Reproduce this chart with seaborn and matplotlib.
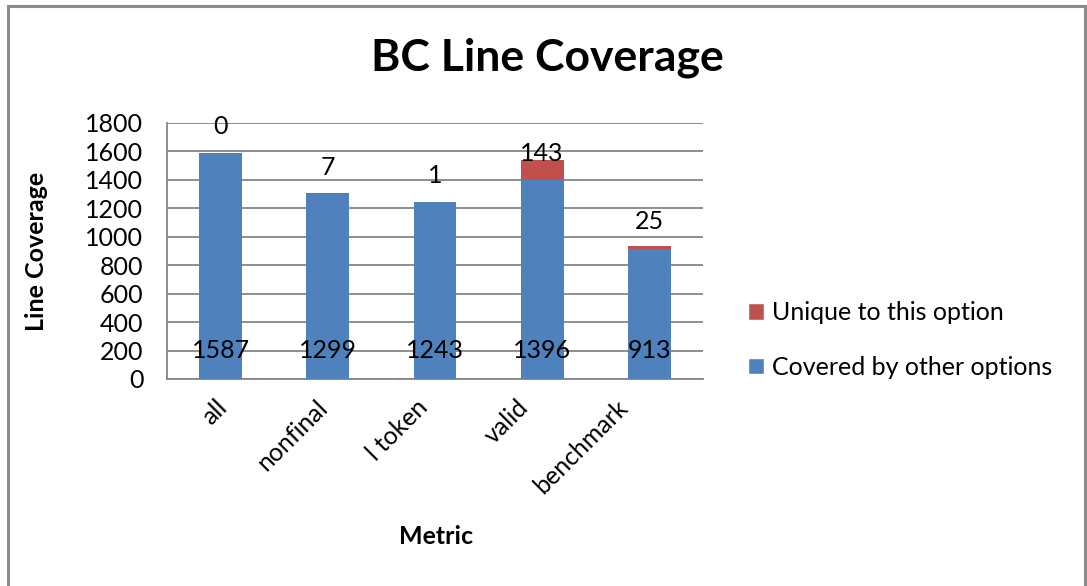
import matplotlib
matplotlib.use("Agg")
import matplotlib.pyplot as plt
from matplotlib.patches import Rectangle, Patch
import seaborn as sns
import pandas as pd

# Data
metrics = ["all", "nonfinal", "l token", "valid", "benchmark"]
covered_by_other = [1587, 1299, 1243, 1396, 913]
unique_to_option = [0, 7, 1, 143, 25]
y_ticks = [0, 200, 400, 600, 800, 1000, 1200, 1400, 1600, 1800]

BLUE = "#4F81BD"
RED = "#C0504D"
GRID = "#868686"
FS = 18

sns.set_theme(style="white")
plt.rcParams["font.family"] = ["Lato", "DejaVu Sans"]
plt.rcParams["text.color"] = "black"
plt.rcParams["axes.labelcolor"] = "black"
plt.rcParams["xtick.color"] = "black"
plt.rcParams["ytick.color"] = "black"

df = pd.DataFrame({
    "Metric": metrics,
    "covered": covered_by_other,
    "unique": unique_to_option,
})
df["total"] = df["covered"] + df["unique"]

fig = plt.figure(figsize=(10.87, 5.86), dpi=100)
fig.patch.set_facecolor("white")

# chart frame
fig.patches.append(Rectangle((8 / 1087, -0.05), (1085 - 8) / 1087, 1 - 6 / 586 + 0.05,
                             transform=fig.transFigure, fill=False,
                             edgecolor="#8C8C8C", linewidth=2.2, zorder=0))

ax = fig.add_axes([167 / 1087, 1 - 379 / 586, (703 - 167) / 1087, (379 - 123) / 586])

# stacked bars: total (red) underneath, covered (blue) drawn over it
sns.barplot(data=df, x="Metric", y="total", color=RED, width=0.4,
            saturation=1, ax=ax, zorder=2)
sns.barplot(data=df, x="Metric", y="covered", color=BLUE, width=0.4,
            saturation=1, ax=ax, zorder=3)
for p in ax.patches:
    p.set_edgecolor("none")

ax.set_ylim(0, 1800)
ax.set_xlim(-0.5, len(metrics) - 0.5)
ax.set_yticks(y_ticks)
ax.set_yticklabels([str(v) for v in y_ticks], fontsize=FS)
ax.yaxis.grid(True, color=GRID, linewidth=1.3, zorder=0)
ax.set_axisbelow(True)

# category ticks sit between bars
ax.set_xticks([i - 0.5 for i in range(len(metrics) + 1)])
ax.set_xticklabels([])
ax.tick_params(axis="x", direction="out", length=7, width=1.3, color=GRID, labelcolor="black")
ax.tick_params(axis="y", direction="out", length=7, width=1.3, color=GRID, pad=10,
               labelcolor="black")

# rotated category labels, spaced slightly tighter than the bars
for i, name in enumerate(metrics):
    ax.text(i * 0.935 - 0.05, -115, name, rotation=45, ha="right", va="top",
            rotation_mode="anchor", fontsize=FS, color="black")

for side in ["top", "right"]:
    ax.spines[side].set_visible(False)
for side in ["left", "bottom"]:
    ax.spines[side].set_color(GRID)
    ax.spines[side].set_linewidth(1.3)

ax.set_xlabel("")
ax.set_ylabel("Line Coverage", fontsize=FS, fontweight="bold", color="black")
ax.yaxis.set_label_coords(-0.222, 0.5)

# value labels
above_offsets = [27, 26, 27, 7, 24]
for i in range(len(metrics)):
    ax.annotate(str(covered_by_other[i]), xy=(i, 0), xytext=(0, 28),
                textcoords="offset pixels", ha="center", va="center",
                fontsize=FS, color="black", zorder=5)
    ax.annotate(str(unique_to_option[i]), xy=(i, df["total"][i]),
                xytext=(0, above_offsets[i]), textcoords="offset pixels",
                ha="center", va="center", fontsize=FS, color="black", zorder=5)

fig.text(436 / 1087, 1 - 537 / 586, "Metric", ha="center", va="center",
         fontsize=FS, fontweight="bold", color="black")
fig.text(547 / 1087, 1 - 58 / 586, "BC Line Coverage", ha="center", va="center",
         fontsize=32, fontweight="bold", color="black")

handles = [Patch(facecolor=RED, label="Unique to this option"),
           Patch(facecolor=BLUE, label="Covered by other options")]
fig.legend(handles=handles, loc="center left",
           bbox_to_anchor=(748 / 1087, 1 - 340 / 586), frameon=False,
           fontsize=FS, handlelength=0.65, handleheight=0.65,
           handletextpad=0.3, labelspacing=1.25, borderpad=0, borderaxespad=0)

fig.savefig("out.png", dpi=100, facecolor="white")
